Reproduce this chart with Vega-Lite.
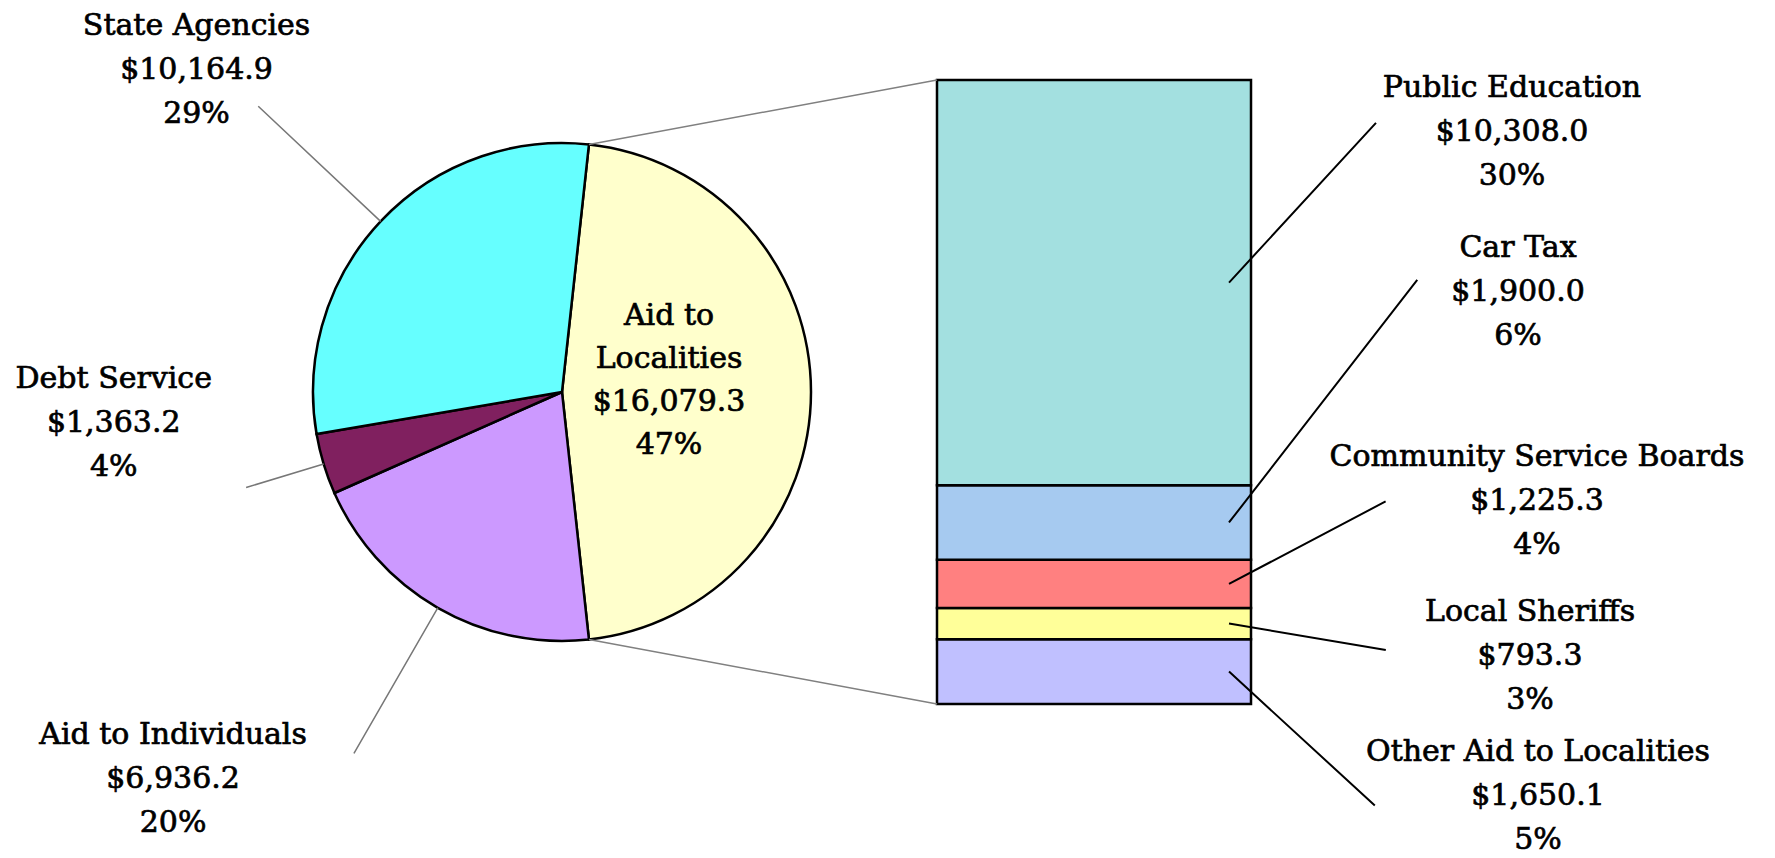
{
  "$schema": "https://vega.github.io/schema/vega-lite/v6.json",
  "autosize": {"type": "none"},
  "padding": {"left": 405, "top": 80, "right": 524, "bottom": 154},
  "width": 846,
  "height": 624,
  "background": "white",
  "config": {
    "view": {"stroke": null},
    "text": {"font": "DejaVu Serif", "fontSize": 30, "lineHeight": 44, "lineBreak": "\n", "fill": "#000000", "stroke": "#000000", "strokeWidth": 0.7, "align": "center", "baseline": "middle"}
  },
  "datasets": {
    "pie": [
      {"category": "Aid to Localities", "panel": "Total Budget", "amount": 16079.3, "rank": 1, "label": "Aid to\nLocalities\n$16,079.3\n47%"},
      {"category": "Aid to Individuals", "panel": "Total Budget", "amount": 6936.2, "rank": 2, "label": "Aid to Individuals\n$6,936.2\n20%"},
      {"category": "Debt Service", "panel": "Total Budget", "amount": 1363.2, "rank": 3, "label": "Debt Service\n$1,363.2\n4%"},
      {"category": "State Agencies", "panel": "Total Budget", "amount": 10164.9, "rank": 4, "label": "State Agencies\n$10,164.9\n29%"}
    ],
    "bar": [
      {"category": "Other Aid to Localities", "panel": "Aid to Localities", "amount": 1650.1, "rank": 1, "label": "Other Aid to Localities\n$1,650.1\n5%"},
      {"category": "Local Sheriffs", "panel": "Aid to Localities", "amount": 793.3, "rank": 2, "label": "Local Sheriffs\n$793.3\n3%"},
      {"category": "Community Service Boards", "panel": "Aid to Localities", "amount": 1225.3, "rank": 3, "label": "Community Service Boards\n$1,225.3\n4%"},
      {"category": "Car Tax", "panel": "Aid to Localities", "amount": 1900.0, "rank": 4, "label": "Car Tax\n$1,900.0\n6%"},
      {"category": "Public Education", "panel": "Aid to Localities", "amount": 10308.0, "rank": 5, "label": "Public Education\n$10,308.0\n30%"}
    ]
  },
  "layer": [
    {
      "data": {"name": "pie"},
      "mark": {"type": "arc", "outerRadius": 249, "stroke": "#000000", "strokeWidth": 2.5},
      "encoding": {
        "x": {"field": "panel", "type": "nominal", "bandPosition": 0.5, "axis": null,
              "scale": {"type": "band", "domain": ["Total Budget", "Aid to Localities"], "paddingInner": 0.40977, "paddingOuter": 0}},
        "theta": {"field": "amount", "type": "quantitative", "stack": true, "scale": {"range": [0.10844, 6.39163]}},
        "order": {"field": "rank", "type": "quantitative"},
        "color": {"field": "category", "type": "nominal", "legend": null,
                  "scale": {"domain": ["Aid to Localities", "Aid to Individuals", "Debt Service", "State Agencies", "Public Education", "Car Tax", "Community Service Boards", "Local Sheriffs", "Other Aid to Localities"],
                            "range": ["#FFFFCC", "#CC99FF", "#80205F", "#66FFFF", "#A3E0E0", "#A6CAF0", "#FF8080", "#FFFF99", "#C0C0FF"]}}
      }
    },
    {
      "data": {"name": "pie"},
      "mark": {"type": "arc", "innerRadius": 249, "outerRadius": 417, "padAngle": 3, "filled": false, "stroke": "#777777", "strokeWidth": 1.5},
      "encoding": {
        "x": {"field": "panel", "type": "nominal", "bandPosition": 0.5},
        "theta": {"field": "amount", "type": "quantitative", "stack": true},
        "order": {"field": "rank", "type": "quantitative"},
        "strokeOpacity": {"condition": {"test": "datum.category === 'State Agencies' || datum.category === 'Aid to Individuals'", "value": 1}, "value": 0}
      }
    },
    {
      "data": {"name": "pie"},
      "mark": {"type": "arc", "innerRadius": 249, "outerRadius": 330, "padAngle": 3, "filled": false, "stroke": "#777777", "strokeWidth": 1.5},
      "encoding": {
        "x": {"field": "panel", "type": "nominal", "bandPosition": 0.5},
        "theta": {"field": "amount", "type": "quantitative", "stack": true},
        "order": {"field": "rank", "type": "quantitative"},
        "strokeOpacity": {"condition": {"test": "datum.category === 'Debt Service'", "value": 1}, "value": 0}
      }
    },
    {
      "data": {"name": "pie"},
      "mark": {"type": "text", "radius": 488, "dx": -10, "dy": -32},
      "encoding": {
        "x": {"field": "panel", "type": "nominal", "bandPosition": 0.5},
        "theta": {"field": "amount", "type": "quantitative", "stack": true},
        "order": {"field": "rank", "type": "quantitative"},
        "text": {"condition": {"test": "datum.category === 'State Agencies'", "field": "label", "type": "nominal"}, "value": ""}
      }
    },
    {
      "data": {"name": "pie"},
      "mark": {"type": "text", "radius": 437, "dx": -30, "dy": -139},
      "encoding": {
        "x": {"field": "panel", "type": "nominal", "bandPosition": 0.5},
        "theta": {"field": "amount", "type": "quantitative", "stack": true},
        "order": {"field": "rank", "type": "quantitative"},
        "text": {"condition": {"test": "datum.category === 'Debt Service'", "field": "label", "type": "nominal"}, "value": ""}
      }
    },
    {
      "data": {"name": "pie"},
      "mark": {"type": "text", "radius": 529, "dx": -125, "dy": -115},
      "encoding": {
        "x": {"field": "panel", "type": "nominal", "bandPosition": 0.5},
        "theta": {"field": "amount", "type": "quantitative", "stack": true},
        "order": {"field": "rank", "type": "quantitative"},
        "text": {"condition": {"test": "datum.category === 'Aid to Individuals'", "field": "label", "type": "nominal"}, "value": ""}
      }
    },
    {
      "data": {"name": "pie"},
      "mark": {"type": "text", "radius": 107, "dy": -76, "lineHeight": 43},
      "encoding": {
        "x": {"field": "panel", "type": "nominal", "bandPosition": 0.5},
        "theta": {"field": "amount", "type": "quantitative", "stack": true},
        "order": {"field": "rank", "type": "quantitative"},
        "text": {"condition": {"test": "datum.category === 'Aid to Localities'", "field": "label", "type": "nominal"}, "value": ""}
      }
    },
    {
      "data": {"name": "bar"},
      "mark": {"type": "bar", "stroke": "#000000", "strokeWidth": 2.5},
      "encoding": {
        "x": {"field": "panel", "type": "nominal"},
        "y": {"field": "amount", "type": "quantitative", "stack": "zero", "axis": null, "scale": {"nice": false, "zero": true}},
        "order": {"field": "rank", "type": "quantitative"},
        "color": {"field": "category", "type": "nominal", "legend": null}
      }
    },
    {
      "data": {"name": "bar"},
      "mark": {"type": "text", "dx": 418, "dy": -195},
      "encoding": {
        "x": {"field": "panel", "type": "nominal", "bandPosition": 0.5},
        "y": {"field": "amount", "type": "quantitative", "stack": "zero", "bandPosition": 0.5},
        "order": {"field": "rank", "type": "quantitative"},
        "text": {"condition": {"test": "datum.category === 'Public Education'", "field": "label", "type": "nominal"}, "value": ""}
      }
    },
    {
      "data": {"name": "bar"},
      "mark": {"type": "text", "dx": 424, "dy": -274},
      "encoding": {
        "x": {"field": "panel", "type": "nominal", "bandPosition": 0.5},
        "y": {"field": "amount", "type": "quantitative", "stack": "zero", "bandPosition": 0.5},
        "order": {"field": "rank", "type": "quantitative"},
        "text": {"condition": {"test": "datum.category === 'Car Tax'", "field": "label", "type": "nominal"}, "value": ""}
      }
    },
    {
      "data": {"name": "bar"},
      "mark": {"type": "text", "dx": 443, "dy": -127},
      "encoding": {
        "x": {"field": "panel", "type": "nominal", "bandPosition": 0.5},
        "y": {"field": "amount", "type": "quantitative", "stack": "zero", "bandPosition": 0.5},
        "order": {"field": "rank", "type": "quantitative"},
        "text": {"condition": {"test": "datum.category === 'Community Service Boards'", "field": "label", "type": "nominal"}, "value": ""}
      }
    },
    {
      "data": {"name": "bar"},
      "mark": {"type": "text", "dx": 436, "dy": -12},
      "encoding": {
        "x": {"field": "panel", "type": "nominal", "bandPosition": 0.5},
        "y": {"field": "amount", "type": "quantitative", "stack": "zero", "bandPosition": 0.5},
        "order": {"field": "rank", "type": "quantitative"},
        "text": {"condition": {"test": "datum.category === 'Local Sheriffs'", "field": "label", "type": "nominal"}, "value": ""}
      }
    },
    {
      "data": {"name": "bar"},
      "mark": {"type": "text", "dx": 444, "dy": 80},
      "encoding": {
        "x": {"field": "panel", "type": "nominal", "bandPosition": 0.5},
        "y": {"field": "amount", "type": "quantitative", "stack": "zero", "bandPosition": 0.5},
        "order": {"field": "rank", "type": "quantitative"},
        "text": {"condition": {"test": "datum.category === 'Other Aid to Localities'", "field": "label", "type": "nominal"}, "value": ""}
      }
    },
    {
      "data": {"name": "bar"},
      "mark": {"type": "arc", "theta": 0.744, "theta2": 0.744, "innerRadius": 0, "outerRadius": 217, "filled": false, "stroke": "#000000", "strokeWidth": 2},
      "encoding": {
        "x": {"field": "panel", "type": "nominal", "bandPosition": 0.93},
        "y": {"field": "amount", "type": "quantitative", "stack": "zero", "bandPosition": 0.5},
        "order": {"field": "rank", "type": "quantitative"},
        "strokeOpacity": {"condition": {"test": "datum.category === 'Public Education'", "value": 1}, "value": 0}
      }
    },
    {
      "data": {"name": "bar"},
      "mark": {"type": "arc", "theta": 0.660, "theta2": 0.660, "innerRadius": 0, "outerRadius": 307, "filled": false, "stroke": "#000000", "strokeWidth": 2},
      "encoding": {
        "x": {"field": "panel", "type": "nominal", "bandPosition": 0.93},
        "y": {"field": "amount", "type": "quantitative", "stack": "zero", "bandPosition": 0.5},
        "order": {"field": "rank", "type": "quantitative"},
        "strokeOpacity": {"condition": {"test": "datum.category === 'Car Tax'", "value": 1}, "value": 0}
      }
    },
    {
      "data": {"name": "bar"},
      "mark": {"type": "arc", "theta": 1.086, "theta2": 1.086, "innerRadius": 0, "outerRadius": 177, "filled": false, "stroke": "#000000", "strokeWidth": 2},
      "encoding": {
        "x": {"field": "panel", "type": "nominal", "bandPosition": 0.93},
        "y": {"field": "amount", "type": "quantitative", "stack": "zero", "bandPosition": 0.5},
        "order": {"field": "rank", "type": "quantitative"},
        "strokeOpacity": {"condition": {"test": "datum.category === 'Community Service Boards'", "value": 1}, "value": 0}
      }
    },
    {
      "data": {"name": "bar"},
      "mark": {"type": "arc", "theta": 1.738, "theta2": 1.738, "innerRadius": 0, "outerRadius": 159, "filled": false, "stroke": "#000000", "strokeWidth": 2},
      "encoding": {
        "x": {"field": "panel", "type": "nominal", "bandPosition": 0.93},
        "y": {"field": "amount", "type": "quantitative", "stack": "zero", "bandPosition": 0.5},
        "order": {"field": "rank", "type": "quantitative"},
        "strokeOpacity": {"condition": {"test": "datum.category === 'Local Sheriffs'", "value": 1}, "value": 0}
      }
    },
    {
      "data": {"name": "bar"},
      "mark": {"type": "arc", "theta": 2.314, "theta2": 2.314, "innerRadius": 0, "outerRadius": 198, "filled": false, "stroke": "#000000", "strokeWidth": 2},
      "encoding": {
        "x": {"field": "panel", "type": "nominal", "bandPosition": 0.93},
        "y": {"field": "amount", "type": "quantitative", "stack": "zero", "bandPosition": 0.5},
        "order": {"field": "rank", "type": "quantitative"},
        "strokeOpacity": {"condition": {"test": "datum.category === 'Other Aid to Localities'", "value": 1}, "value": 0}
      }
    },
    {
      "data": {"name": "bar"},
      "transform": [{"aggregate": [{"op": "sum", "field": "amount", "as": "total"}], "groupby": ["panel"]}],
      "mark": {"type": "arc", "theta": 4.5291, "theta2": 4.5291, "innerRadius": 0, "outerRadius": 354, "filled": false, "stroke": "#808080", "strokeWidth": 1.5},
      "encoding": {
        "x": {"field": "panel", "type": "nominal", "bandPosition": 0},
        "y": {"field": "total", "type": "quantitative", "stack": null}
      }
    },
    {
      "data": {"name": "bar"},
      "transform": [{"aggregate": [{"op": "sum", "field": "amount", "as": "total"}], "groupby": ["panel"]}],
      "mark": {"type": "arc", "theta": 4.8957, "theta2": 4.8957, "innerRadius": 0, "outerRadius": 354, "filled": false, "stroke": "#808080", "strokeWidth": 1.5},
      "encoding": {
        "x": {"field": "panel", "type": "nominal", "bandPosition": 0},
        "y": {"datum": 0, "type": "quantitative"}
      }
    }
  ]
}
